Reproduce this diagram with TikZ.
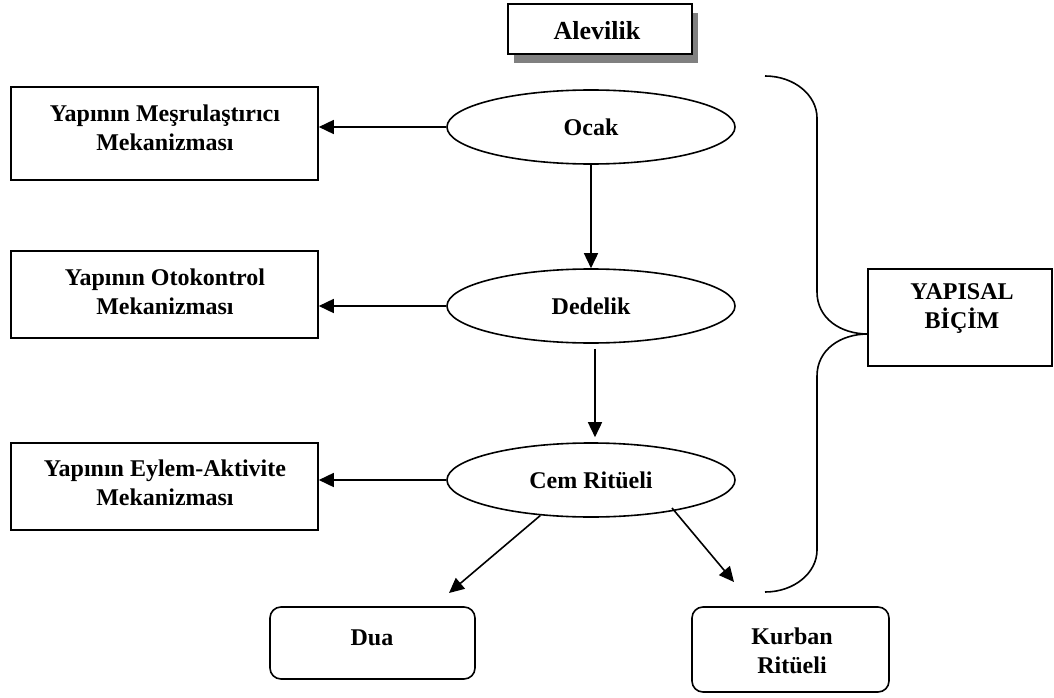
\documentclass[tikz,border=0pt]{standalone}
\usepackage{fontspec}
\setmainfont{Liberation Serif}
\usetikzlibrary{arrows.meta,shapes.geometric}
\begin{document}
\begin{tikzpicture}[x=1pt,y=-1pt,
  lw/.style={line width=1.6pt},
  txt/.style={font=\fontsize{24}{29}\selectfont\bfseries,align=center,inner sep=0pt},
  sqbox/.style={draw,lw,rectangle,inner sep=0pt,minimum width=307pt},
  rbox/.style={draw,lw,rectangle,rounded corners=11pt,inner sep=0pt},
  ell/.style={draw,lw,ellipse,inner sep=0pt,minimum width=288pt,minimum height=74pt,font=\fontsize{24}{29}\selectfont\bfseries},
  arr/.style={lw,-{Triangle[length=15pt,width=14pt]}}
]
\useasboundingbox (0,0) rectangle (1054,698);

% Alevilik with shadow
\fill[black!50] (514,13) rectangle (698,63);
\node[draw,lw,fill=white,rectangle,inner sep=0pt,minimum width=184pt,minimum height=50pt] (alev) at (600,29) {};
\node[txt,font=\fontsize{26}{30}\selectfont\bfseries] (talev) at (597,31) {Alevilik};

% left boxes
\node[sqbox,minimum height=93pt] (b1) at (164.5,133.5) {};
\node[txt] (tb1) at (165,128) {Yapının Meşrulaştırıcı\\Mekanizması};
\node[sqbox,minimum height=87pt] (b2) at (164.5,294.5) {};
\node[txt] (tb2) at (165,292) {Yapının Otokontrol\\Mekanizması};
\node[sqbox,minimum height=87pt] (b3) at (164.5,486.5) {};
\node[txt] (tb3) at (165,483) {Yapının Eylem-Aktivite\\Mekanizması};

% ellipses
\node[ell] (o) at (591,127) {Ocak};
\node[ell] (d) at (591,306) {Dedelik};
\node[ell] (c) at (591,480) {Cem Ritüeli};

% bottom boxes
\node[rbox,minimum width=205pt,minimum height=72pt] (dua) at (372.5,643) {};
\node[txt] (tdua) at (372,638) {Dua};
\node[rbox,minimum width=197pt,minimum height=85pt] (kur) at (790.5,649.5) {};
\node[txt] (tkur) at (792,651) {Kurban\\Ritüeli};

% right box
\node[draw,lw,rectangle,inner sep=0pt,minimum width=184pt,minimum height=97pt] (yb) at (960,317.5) {};
\node[txt] (tyb) at (962,309) {YAPISAL\\BİÇİM};

% arrows
\draw[arr] (o.west) -- (o.west -| b1.east);
\draw[arr] (d.west) -- (d.west -| b2.east);
\draw[arr] (c.west) -- (c.west -| b3.east);
\draw[arr] (o.south) -- (d.north);
\draw[arr,shorten <=5pt,shorten >=5pt] ([xshift=4pt]d.south) -- ([xshift=4pt]c.north);
\coordinate (dtip) at (449,593);
\coordinate (k0) at (672,508);
\coordinate (ktip) at (734,582);
\draw[arr] (c.215) -- (dtip);
\draw[arr] (k0) -- (ktip);

% brace
\draw[lw] (765,76) .. controls (794,76) and (817,95) .. (817,118) -- (817,292)
  .. controls (817,318) and (840,334) .. (868,334)
  .. controls (840,334) and (817,350) .. (817,376) -- (817,550)
  .. controls (817,573) and (794,592) .. (765,592);
\end{tikzpicture}
\end{document}
